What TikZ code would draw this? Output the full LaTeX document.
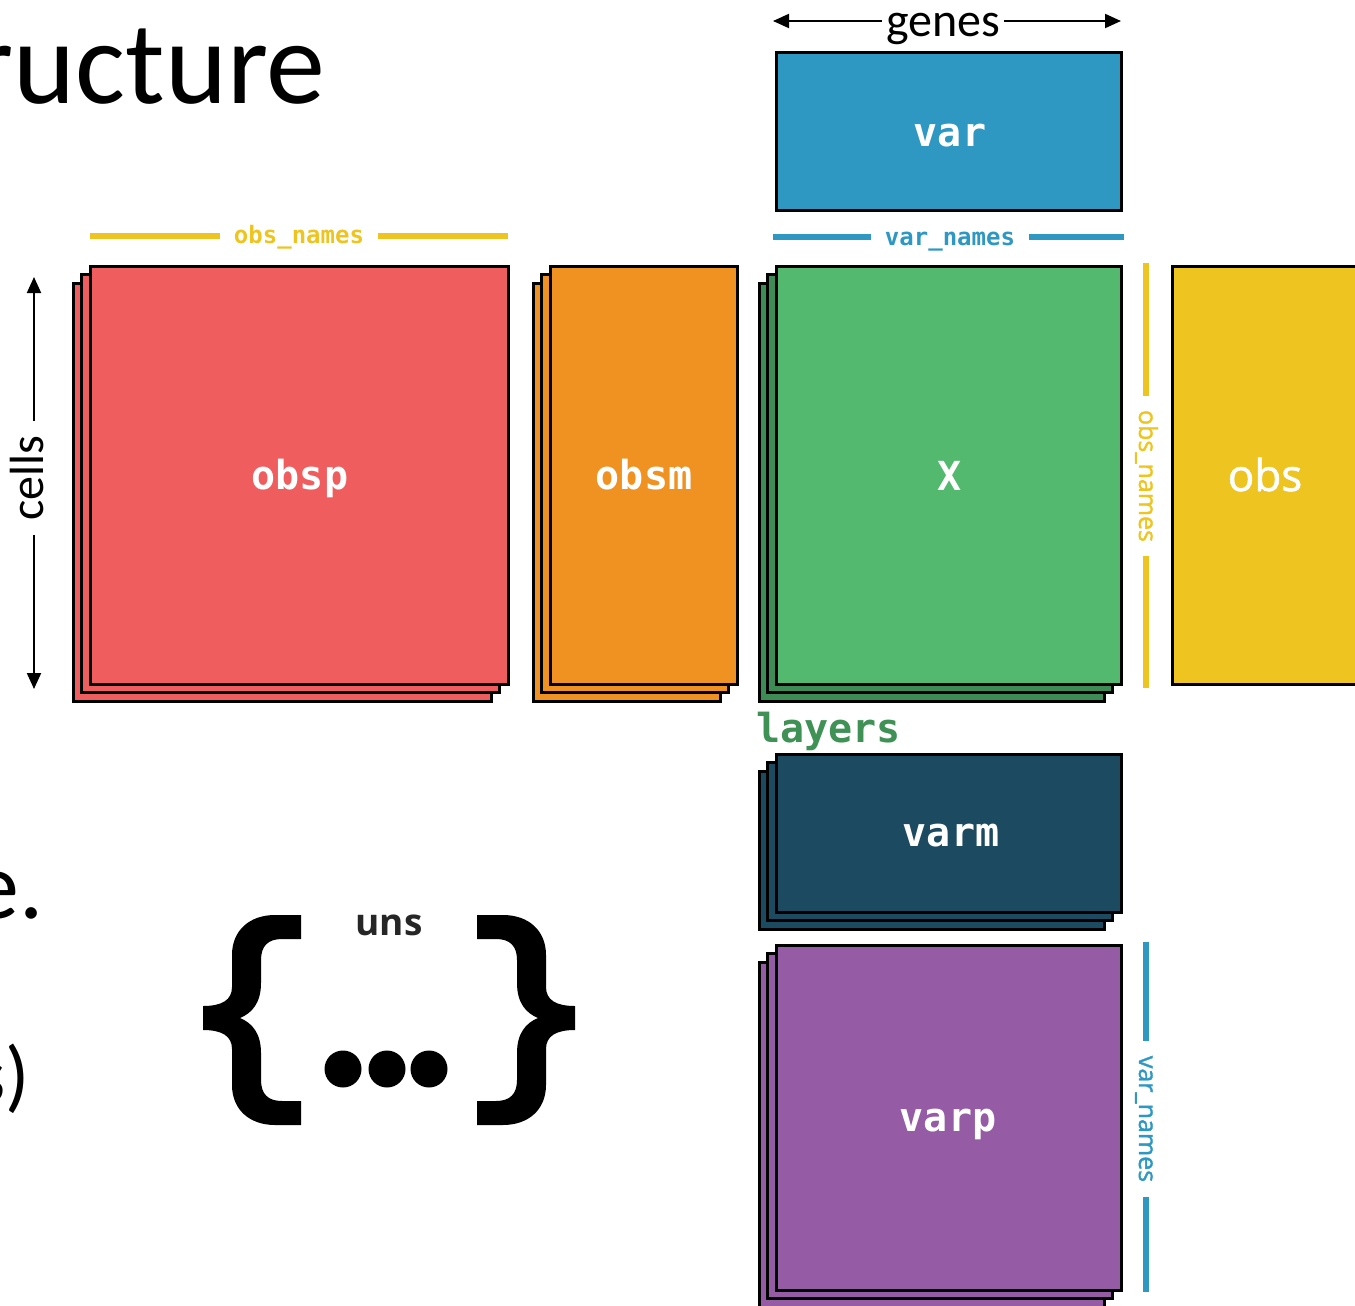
\documentclass[tikz,border=0pt]{standalone}
\usepackage{fontspec}
\setmainfont{Carlito}
\newfontfamily\monof{DejaVu Sans Mono}
\newfontfamily\osans{Open Sans}
\newfontfamily\osansmed{Open Sans}[FakeBold=1.4]
\usetikzlibrary{arrows.meta}
\definecolor{cred}{HTML}{F05D5E}
\definecolor{corange}{HTML}{F09222}
\definecolor{cgreen}{HTML}{52B96E}
\definecolor{cdgreen}{HTML}{3D8B55}
\definecolor{cblue}{HTML}{2E97C2}
\definecolor{cyellow}{HTML}{EEC420}
\definecolor{cnavy}{HTML}{1C4A60}
\definecolor{cpurple}{HTML}{955BA5}
\definecolor{clayers}{HTML}{3F9155}
\newcommand\layerstack[6]{% front colour, back colour, x1, y1, x2, y2
  \foreach \k in {2,1}{\filldraw[boxline, fill=#2] ({#3-8.5*\k},{#4+8.5*\k}) rectangle ({#5-8.5*\k},{#6+8.5*\k});}
  \filldraw[boxline, fill=#1] (#3,#4) rectangle (#5,#6);
}
\newcommand\bracepath{%
  (0,0) -- (-26,0) .. controls (-51,0) and (-69,15) .. (-69,40) -- (-69,72)
  .. controls (-69,85) and (-79,91) .. (-98,91) -- (-98,115)
  .. controls (-79,115) and (-69,121) .. (-69,134) -- (-69,170)
  .. controls (-69,195) and (-51,210) .. (-26,210) -- (0,210) -- (0,186) -- (-19,186)
  .. controls (-33,186) and (-40,179) .. (-40,165) -- (-40,138)
  .. controls (-40,118) and (-49,108) .. (-61,103)
  .. controls (-49,98) and (-40,88) .. (-40,68) -- (-40,45)
  .. controls (-40,31) and (-33,24) .. (-19,24) -- (0,24) -- cycle}
\begin{document}
\begin{tikzpicture}[x=0.5pt,y=-0.5pt,
  boxline/.style={draw=black, line width=1.5pt},
  lbl/.style={text=white, font=\monof\bfseries\fontsize{20}{24}\selectfont, inner sep=0pt, anchor=base},
  namelbl/.style={font=\monof\bfseries\fontsize{12}{14}\selectfont, inner xsep=7pt, inner ysep=0pt, anchor=base},
  vnamelbl/.style={font=\osansmed\fontsize{12.5}{14}\selectfont, inner xsep=7pt, inner ysep=0pt, anchor=base, rotate=-90},
  bar/.style={line width=3.2pt},
  arr/.style={line width=1pt, -{Triangle[length=8pt,width=7pt]}},
  dotn/.style={circle, fill=black, minimum size=18.5pt, inner sep=0pt},
  bigtxt/.style={inner sep=0pt}
]
\useasboundingbox (0,0) rectangle (1355,1306);
\clip (0,0) rectangle (1355,1306);

% left text fragments
\node[bigtxt, anchor=base east, font=\fontsize{59}{60}\selectfont] (title) at (326,103) {ructure};
\node[bigtxt, anchor=base east, font=\fontsize{48}{50}\selectfont] (ee) at (44,918) {e.};
\node[bigtxt, anchor=base east, font=\fontsize{40}{44}\selectfont] (ss) at (30,1102) {s)};

% stacks
\layerstack{cred}{cred}{90}{266}{508}{684}
\layerstack{corange}{corange}{550}{266}{737}{684}
\layerstack{cgreen}{cdgreen}{776}{266}{1121}{684}
\layerstack{cnavy}{cnavy}{776}{754}{1121}{912}
\layerstack{cpurple}{cpurple}{776}{945}{1121}{1290}
\filldraw[boxline, fill=cblue] (776,52) rectangle (1121,210);
\filldraw[boxline, fill=cyellow] (1172,266) rectangle (1365,684);

% labels
\node[lbl] (obsp) at (300,489) {obsp};
\node[lbl] (obsm) at (644,489) {obsm};
\node[lbl] (X) at (950,490) {X};
\node[lbl] (var) at (950,146) {var};
\node[lbl] (varm) at (951,846) {varm};
\node[lbl] (varp) at (948,1131) {varp};
\node[text=white, font=\osansmed\fontsize{22}{26}\selectfont, inner sep=0pt, anchor=base] (obs) at (1265,491) {obs};
\node[text=clayers, font=\monof\bfseries\fontsize{20}{24}\selectfont, inner sep=0pt, anchor=base west] (layers) at (756,742) {layers};

% genes arrow
\coordinate (gL) at (773,21);
\coordinate (gR) at (1121,21);
\node[anchor=base, font=\fontsize{24}{28}\selectfont, inner xsep=2pt, inner ysep=0pt] (genes) at (943,36) {genes};
\draw[arr] (genes.west |- gL) -- (gL);
\draw[arr] (genes.east |- gR) -- (gR);

% cells arrow
\coordinate (cT) at (34,277);
\coordinate (cB) at (34,689);
\node[rotate=90, anchor=base, font=\fontsize{24}{28}\selectfont, inner xsep=7pt, inner ysep=0pt] (cells) at (43,478) {cells};
\draw[arr] (cT |- cells.east) -- (cT);
\draw[arr] (cB |- cells.west) -- (cB);

% obs_names horizontal
\coordinate (on1) at (90,236);
\coordinate (on2) at (508,236);
\node[namelbl, text=cyellow] (obsnames) at (299,243) {obs\_names};
\draw[bar, cyellow] (on1) -- (on1 -| obsnames.west);
\draw[bar, cyellow] (obsnames.east |- on2) -- (on2);

% var_names horizontal
\coordinate (vn1) at (773,237);
\coordinate (vn2) at (1124,237);
\node[namelbl, text=cblue] (varnames) at (950,245) {var\_names};
\draw[bar, cblue] (vn1) -- (vn1 -| varnames.west);
\draw[bar, cblue] (varnames.east |- vn2) -- (vn2);

% obs_names vertical
\coordinate (ov1) at (1146,263);
\coordinate (ov2) at (1146,688);
\node[vnamelbl, text=cyellow] (obsnamesv) at (1139,476) {obs\_names};
\draw[bar, cyellow] (ov1) -- (ov1 |- obsnamesv.west);
\draw[bar, cyellow] (obsnamesv.east -| ov2) -- (ov2);

% var_names vertical
\coordinate (vv1) at (1146,942);
\coordinate (vv2) at (1146,1292);
\node[vnamelbl, text=cblue] (varnamesv) at (1139,1119) {var\_names};
\draw[bar, cblue] (vv1) -- (vv1 |- varnamesv.west);
\draw[bar, cblue] (varnamesv.east -| vv2) -- (vv2);

% uns
\begin{scope}[shift={(301,915)}]
  \fill[black] \bracepath;
\end{scope}
\begin{scope}[shift={(477,915)}, xscale=-1]
  \fill[black] \bracepath;
\end{scope}
\node[font=\osans\bfseries\fontsize{18.5}{20}\selectfont, text=black!85, anchor=base, inner sep=0pt] (uns) at (389,935) {uns};
\node[dotn] (d1) at (343,1069) {};
\node[dotn] (d2) at (387,1069) {};
\node[dotn] (d3) at (429,1069) {};
\end{tikzpicture}
\end{document}
